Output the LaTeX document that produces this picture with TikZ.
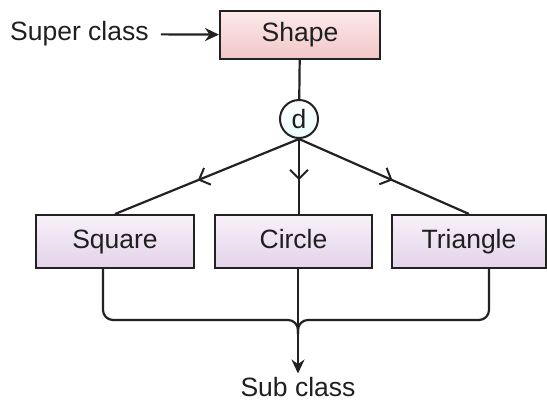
\documentclass[tikz,border=0pt]{standalone}
\usepackage{fontspec}
\setmainfont{Liberation Sans}
\usetikzlibrary{arrows.meta,decorations.markings,calc}
\definecolor{pinktop}{HTML}{FCEAEA}
\definecolor{pinkbot}{HTML}{F2C6C8}
\definecolor{lavtop}{HTML}{F7F1F8}
\definecolor{lavbot}{HTML}{E4D3EA}
\definecolor{edge}{HTML}{222222}
\begin{document}
\begin{tikzpicture}[x=1pt,y=-1pt,
  font=\fontsize{26.5}{30}\selectfont,
  text=black!88,
  conn/.style={draw=edge, line width=2.2pt},
  shapebox/.style={draw=edge, line width=2pt, minimum width=160pt, minimum height=48pt,
    inner sep=0pt, anchor=north west, top color=pinktop, bottom color=pinkbot,
    text height=19pt, text depth=5.5pt},
  subbox/.style={draw=edge, line width=2pt, minimum height=53pt,
    inner sep=0pt, anchor=north west, top color=lavtop, bottom color=lavbot,
    text height=19pt, text depth=5.5pt},
  disc/.style={draw=edge, line width=2pt, circle, minimum size=38pt, inner sep=0pt,
    top color=white, bottom color=white!92!cyan},
  label/.style={inner sep=0pt, text height=19pt, text depth=5.5pt},
  midarrow/.style={postaction={decorate}, decoration={markings,
    mark=at position 0.55 with {\arrow{Straight Barb[length=9pt,width=18pt,line width=2pt]}}}},
  tip/.style={-{Stealth[length=14pt,width=13pt]}}
]
\useasboundingbox (0,0) rectangle (547,403);
\node[label, anchor=west] (super) at (10,34) {Super class};
\node[shapebox] (shape) at (219,10) {Shape};
\node[disc] (d) at (299,119) {d};
\node[subbox, minimum width=158pt] (square) at (35,214) {Square};
\node[subbox, minimum width=157pt] (circle) at (214,214) {Circle};
\node[subbox, minimum width=154pt] (triangle) at (391,214) {Triangle};
\node[label] (sub) at (298,390) {Sub class};
\coordinate (j) at (298,320);

\draw[conn, tip, shorten <=12pt] (super) -- (shape);
\draw[conn] (shape) -- (d);
\draw[conn, midarrow] (d.south) -- (square.north);
\draw[conn, midarrow] (d.south) -- (circle.north -| d.south);
\draw[conn, midarrow] (d.south) -- (triangle.north);
\draw[conn, rounded corners=10pt] ($(square.south)+(-12,0)$) |- (j) -- ($(j)+(0,14)$);
\draw[conn, rounded corners=10pt] ($(triangle.south)+(20,0)$) |- (j) -- ($(j)+(0,14)$);
\draw[conn, tip, shorten >=4pt] (circle.south -| j) -- (sub.north -| j);
\end{tikzpicture}
\end{document}
